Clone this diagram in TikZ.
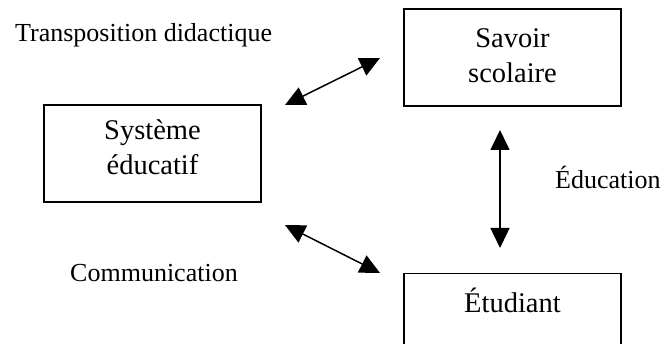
\documentclass[tikz,border=0pt]{standalone}
\usepackage{fontspec}
\setmainfont{Liberation Serif}
\usetikzlibrary{arrows.meta}

\begin{document}
\begin{tikzpicture}[
  x=1pt, y=-1pt,
  entity/.style={draw, line width=1.3pt, inner sep=0pt,
    minimum width=217pt, align=center,
    font=\fontsize{28.5}{35}\selectfont},
  caption/.style={inner sep=0pt, anchor=base west,
    font=\fontsize{26}{31}\selectfont},
  link/.style={line width=1.5pt,
    {Triangle[length=20pt,width=19pt]}-{Triangle[length=20pt,width=19pt]}}
]
  \useasboundingbox (0,0) rectangle (663,344);
  \clip (0,0) rectangle (663,344);

  % the three poles (text height runs from the top edge to the last baseline)
  \node[entity, text height=74pt, text depth=23pt]
    (savoir) at (512.5,57.5) {Savoir\\scolaire};
  \node[entity, text height=70pt, text depth=27pt]
    (systeme) at (152.5,153.5) {Système\\éducatif};
  \node[entity, anchor=north, text height=39pt, text depth=58pt]
    (etudiant) at (512.5,273) {Étudiant};

  % free ends of the double arrows
  \coordinate (td-a) at (285,105);
  \coordinate (td-b) at (380,58);
  \coordinate (ed-a) at (500,130);
  \coordinate (ed-b) at (500,248);
  \coordinate (co-a) at (285,225);
  \coordinate (co-b) at (380,273);

  \draw[link] (td-a) -- (td-b);
  \draw[link] (ed-a) -- (ed-b);
  \draw[link] (co-a) -- (co-b);

  % relation labels
  \node[caption] (lbl-td) at (15,42) {Transposition didactique};
  \node[caption] (lbl-ed) at (555,189) {Éducation};
  \node[caption] (lbl-co) at (70,281) {Communication};
\end{tikzpicture}
\end{document}
